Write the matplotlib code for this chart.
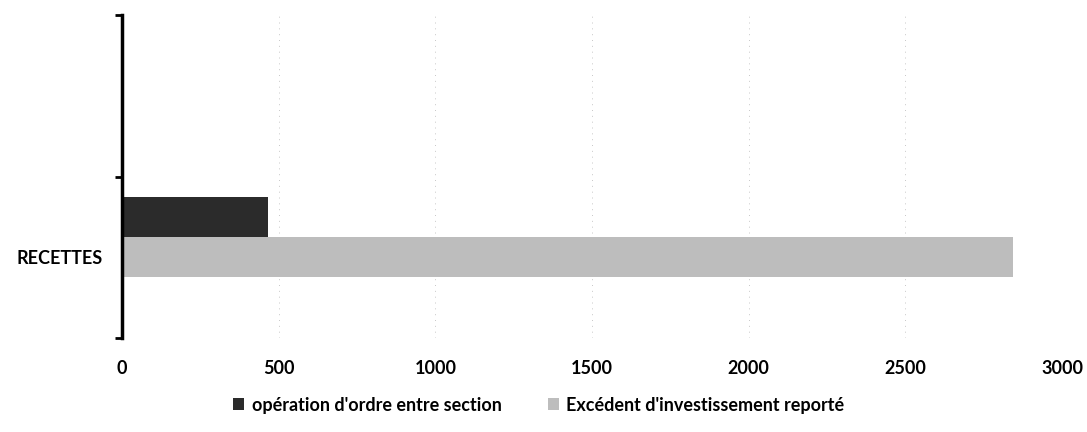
import numpy as np
import matplotlib
matplotlib.use("Agg")
import matplotlib.pyplot as plt

plt.rcParams['font.family'] = ['Lato', 'DejaVu Sans']

# data
categories = ["RECETTES", ""]
series_names = ["opération d'ordre entre section", "Excédent d'investissement reporté"]
ordre = [465, 0]
excedent = [2845, 0]
xticks = [0, 500, 1000, 1500, 2000, 2500, 3000]

fig = plt.figure(figsize=(10.87, 4.32), dpi=100)
ax = fig.add_axes([122/1087, 1 - 338/432, (1062-122)/1087, (338-15)/432])

y = np.arange(len(categories))
h = 0.25
ax.barh(y + h, ordre, height=h, color='#2b2b2b', label=series_names[0])
ax.barh(y, excedent, height=h, color='#bdbdbd', label=series_names[1])

ax.set_xlim(0, 3000)
ax.set_ylim(-0.5, len(categories) - 0.5)
ax.set_xticks(xticks)
ax.set_xticklabels([str(v) for v in xticks], fontsize=13, fontweight='bold')
ax.tick_params(axis='x', length=0, pad=16)
ax.xaxis.grid(True, color='#c8c8c8', linestyle=(0, (1, 5)), linewidth=0.7)
ax.set_axisbelow(True)

ax.set_yticks(y)
ax.set_yticklabels(categories, fontsize=13, fontweight='bold')
ax.tick_params(axis='y', which='major', length=0, pad=14)
ax.set_yticks(np.arange(-0.5, len(categories)), minor=True)
ax.tick_params(axis='y', which='minor', length=5, width=2, direction='out')

for s in ['top', 'right', 'bottom']:
    ax.spines[s].set_visible(False)
ax.spines['left'].set_linewidth(2.5)

fig.legend(loc='center', bbox_to_anchor=(539/1087, 1 - 405/432), ncol=2,
           frameon=False, prop={'size': 13, 'weight': 'bold'},
           handlelength=0.6, handleheight=0.6,
           handletextpad=0.4, columnspacing=2.6)

fig.savefig('out.png', dpi=100)
